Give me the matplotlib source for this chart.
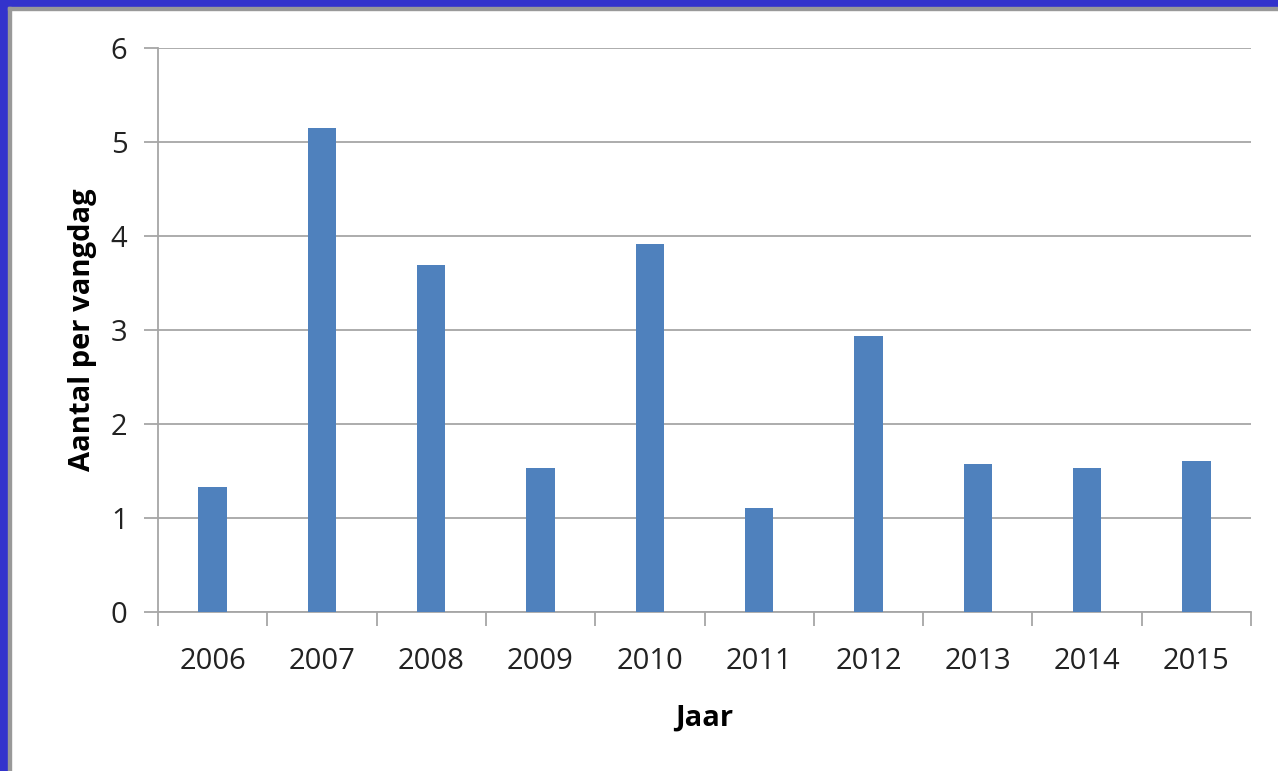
import matplotlib.pyplot as plt
import numpy as np
from matplotlib.patches import Rectangle

jaren = ["2006", "2007", "2008", "2009", "2010", "2011", "2012", "2013", "2014", "2015"]
aantal = [1.33, 5.15, 3.69, 1.53, 3.91, 1.11, 2.94, 1.57, 1.53, 1.61]

plt.rcParams['font.family'] = ['Open Sans', 'DejaVu Sans']

fig = plt.figure(figsize=(12.78, 7.71), dpi=100)

# blauwe rand links en boven, met grijze lijn erin
fig.patches.append(Rectangle((0, 0), 8 / 1278, 1, transform=fig.transFigure, color="#3333cc", zorder=0))
fig.patches.append(Rectangle((0, 1 - 7 / 771), 1, 7 / 771, transform=fig.transFigure, color="#3333cc", zorder=0))
fig.patches.append(Rectangle((8 / 1278, 0), 3 / 1278, 1 - 7 / 771, transform=fig.transFigure, color="#999999", zorder=0))
fig.patches.append(Rectangle((8 / 1278, 1 - 10 / 771), 1, 3 / 771, transform=fig.transFigure, color="#999999", zorder=0))

ax = fig.add_axes([158 / 1278, 1 - 612 / 771, (1251 - 158) / 1278, (612 - 48) / 771])

x = np.arange(len(jaren))
ax.bar(x, aantal, width=0.26, color="#4f81bd", zorder=3)

ax.set_xlim(-0.5, len(jaren) - 0.5)
ax.set_ylim(0, 6)
ax.set_yticks(range(0, 7))
ax.yaxis.grid(True, color="#a6a6a6", linewidth=1.3, zorder=0)
ax.tick_params(axis="y", length=10, width=1.3, color="#a6a6a6", labelsize=21, pad=12, labelcolor="#222222")

ax.set_xticks(x)
ax.set_xticklabels(jaren)
ax.set_xticks(np.arange(-0.5, len(jaren)), minor=True)
ax.tick_params(axis="x", which="major", length=0, labelsize=21, pad=25, labelcolor="#222222")
ax.tick_params(axis="x", which="minor", length=10, width=1.3, color="#a6a6a6")

for s in ["top", "right"]:
    ax.spines[s].set_visible(False)
for s in ["left", "bottom"]:
    ax.spines[s].set_color("#a6a6a6")
    ax.spines[s].set_linewidth(1.3)

ax.set_ylabel("Aantal per vangdag", fontsize=21, fontweight="bold", labelpad=10)
ax.set_xlabel("Jaar", fontsize=21, fontweight="bold", labelpad=20)

plt.savefig("out.png", dpi=100)
